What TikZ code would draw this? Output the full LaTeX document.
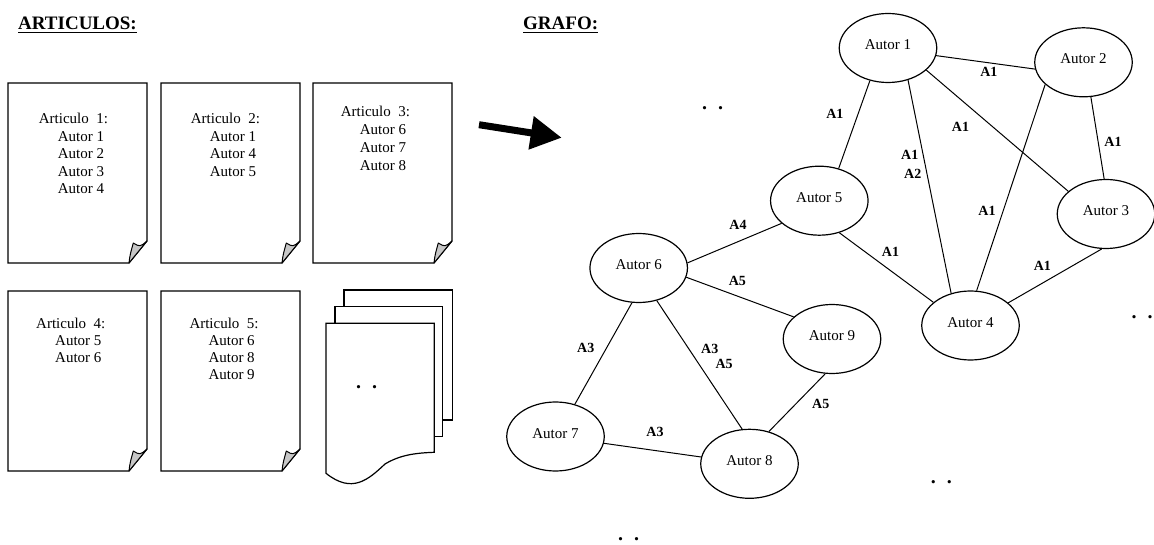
\documentclass[tikz,border=0pt]{standalone}
\usepackage{fontspec}
\setmainfont{Liberation Serif}
\usetikzlibrary{shapes.geometric,arrows.meta}

\tikzset{
  author/.style={ellipse, draw, line width=1.2pt, minimum width=97.5pt,
    minimum height=69pt, inner sep=0pt, text height=10pt, text depth=7pt,
    font=\fontsize{15}{18}\selectfont},
  link/.style={line width=1pt},
  elabel/.style={inner sep=0pt, font=\bfseries\fontsize{14}{15}\selectfont},
  sheet/.style={draw, line width=1.2pt, fill=white, line join=miter},
  curl/.style={draw, line width=1pt, fill=black!22, line join=round},
  doctext/.style={anchor=north west, align=left, inner sep=0pt},
  heading/.style={anchor=base west, inner sep=0pt,
    font=\bfseries\fontsize{19}{22}\selectfont},
  dots/.style={inner sep=0pt, anchor=base,
    font=\bfseries\fontsize{20}{20}\selectfont},
}

% indent of the author lines inside a sheet
\newcommand\authind{\hspace*{19pt}}
% two heavy dots marking further, omitted items
\newcommand\moredots{.\hspace{11pt}.}
% sheet of paper with a curled lower right corner: #1 = left, #2 = top
\newcommand\paperdoc[2]{%
  \draw[sheet] ({#1},{#2}) -- ++(139,0) -- ++(0,158) -- ++(-18,22)
    -- ++(-121,0) -- cycle;
  \filldraw[curl] ({#1+121},{#2+180})
    .. controls ({#1+122},{#2+172}) .. ({#1+125.3},{#2+160})
    .. controls ({#1+132},{#2+164}) .. ({#1+139},{#2+158}) -- cycle;
}

\begin{document}
\begin{tikzpicture}[x=1pt,y=-1pt]
\useasboundingbox (0,0) rectangle (1154,545);

% ---------------- headings ----------------
\node[heading] (hart) at (18,29.3) {ARTICULOS:};
\draw[line width=1.3pt] ([yshift=-3pt]hart.base west) -- ([yshift=-3pt]hart.base east);
\node[heading] (hgraf) at (523,29.3) {GRAFO:};
\draw[line width=1.3pt] ([yshift=-3pt]hgraf.base west) -- ([yshift=-3pt]hgraf.base east);

% ---------------- articles ----------------
\paperdoc{8}{83}
\paperdoc{161}{83}
\paperdoc{313}{83}
\paperdoc{8}{291}
\paperdoc{161}{291}

\node[doctext, font=\fontsize{15}{17.5}\selectfont] (t1) at (38.7,113)
  {Articulo\ \ 1:\\\authind Autor 1\\\authind Autor 2\\\authind Autor 3\\\authind Autor 4};
\node[doctext, font=\fontsize{15}{17.5}\selectfont] (t2) at (190.7,113)
  {Articulo\ \ 2:\\\authind Autor 1\\\authind Autor 4\\\authind Autor 5};
\node[doctext, font=\fontsize{15}{18}\selectfont] (t3) at (340.7,105.8)
  {Articulo\ \ 3:\\\authind Autor 6\\\authind Autor 7\\\authind Autor 8};
\node[doctext, font=\fontsize{15}{17.2}\selectfont] (t4) at (36,317.5)
  {Articulo\ \ 4:\\\authind Autor 5\\\authind Autor 6};
\node[doctext, font=\fontsize{15}{17.2}\selectfont] (t5) at (189.3,317.5)
  {Articulo\ \ 5:\\\authind Autor 6\\\authind Autor 8\\\authind Autor 9};

% stack of further articles
\draw[sheet] (344,290) rectangle (452.3,420);
\draw[sheet] (335,306.7) rectangle (442.7,436.7);
\draw[sheet] (326,323.3) -- (434.3,323.3) -- (434.3,452.3)
  .. controls (415,453) and (400,455) .. (385,464)
  .. controls (368,480) and (352,494) .. (326,473.3) -- cycle;
\node[dots] (dstack) at (366.7,388.4) {\moredots};

% ---------------- arrow ----------------
\coordinate (arrowtail) at (479,124.7);
\coordinate (arrowtip) at (561.7,137.7);
\draw[line width=7pt, -{Triangle[length=31pt,width=32pt]}] (arrowtail) -- (arrowtip);

% ---------------- graph ----------------
\node[author] (a1) at (888,48) {Autor 1};
\node[author] (a2) at (1083.5,62.3) {Autor 2};
\node[author] (a3) at (1106,214) {Autor 3};
\node[author] (a4) at (970.5,325.5) {Autor 4};
\node[author] (a5) at (819.3,200.7) {Autor 5};
\node[author] (a6) at (638.7,268) {Autor 6};
\node[author] (a7) at (555.5,436.5) {Autor 7};
\node[author] (a8) at (749.5,463.8) {Autor 8};
\node[author] (a9) at (832,339) {Autor 9};

\draw[link] (a1.351) -- (a2.188);
\draw[link] (a1.241) -- (a5.59);
\draw[link] (a1.302) -- (a4.121);
\draw[link] (a1.330) -- (a3.149);
\draw[link] (a2.210) -- (a4.80);
\draw[link] (a2.282) -- (a3.93);
\draw[link] (a5.302) -- (a4.148);
\draw[link] (a3.263) -- (a4.31);
\draw[link] (a5.211) -- (a6.6);
\draw[link] (a6.349) -- (a9.150);
\draw[link] (a6.259) -- (a7.59);
\draw[link] (a6.299) -- (a8.102);
\draw[link] (a9.259) -- (a8.59);
\draw[link] (a7.352) -- (a8.172);

% edge labels (articles shared by the two authors)
\node[elabel] (l12) at (988.8,71.7) {A1};
\node[elabel] (l15) at (834.8,114.3) {A1};
\node[elabel] (l13) at (960.5,126.7) {A1};
\node[elabel, anchor=north west, align=left, font=\bfseries\fontsize{14}{18.3}\selectfont]
  (l14) at (901,150.3) {A1\\\hspace*{3pt}A2};
\node[elabel] (l23) at (1113,141.7) {A1};
\node[elabel] (l24) at (987,211) {A1};
\node[elabel] (l56) at (738,225) {A4};
\node[elabel] (l54) at (890.5,251.7) {A1};
\node[elabel] (l34) at (1042.3,266) {A1};
\node[elabel] (l69) at (737.3,280.7) {A5};
\node[elabel] (l67) at (585.7,348.3) {A3};
\node[elabel, anchor=north west, align=left, font=\bfseries\fontsize{14}{15}\selectfont]
  (l68) at (701,343.6) {A3\\\hspace*{14.3pt}A5};
\node[elabel] (l98) at (820.7,404) {A5};
\node[elabel] (l78) at (655,432.3) {A3};

% ellipsis marks
\node[dots] (dtop) at (712.5,110) {\moredots};
\node[dots] (dright) at (1142,318.4) {\moredots};
\node[dots] (dmid) at (941.3,483.4) {\moredots};
\node[dots] (dbottom) at (628.7,540.7) {\moredots};
\end{tikzpicture}
\end{document}
